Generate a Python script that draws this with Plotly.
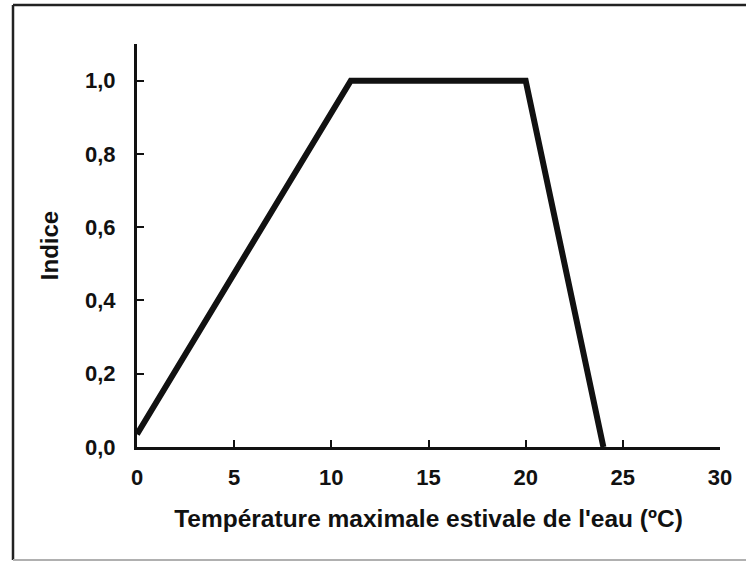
import plotly.graph_objects as go

# Data
temperature = [0, 11, 20, 24]
indice = [0.035, 1.0, 1.0, 0.0]

x_tick_vals = [0, 5, 10, 15, 20, 25, 30]
x_tick_text = ["0", "5", "10", "15", "20", "25", "30"]
y_tick_vals = [0.0, 0.2, 0.4, 0.6, 0.8, 1.0]
y_tick_text = ["0,0", "0,2", "0,4", "0,6", "0,8", "1,0"]

x_title = "Température maximale estivale de l'eau (ºC)"
y_title = "Indice"

FONT = "Liberation Sans"
INK = "#111111"

fig = go.Figure()
fig.add_trace(go.Scatter(
    x=temperature, y=indice, mode="lines",
    line=dict(color=INK, width=6),
    showlegend=False, hoverinfo="skip",
))

W, H = 746, 563
L, R, T, B = 137, 26, 44, 116
plot_w = W - L - R
plot_h = H - T - B


def px_to_paper_x(px):
    return (px - L) / plot_w


def px_to_paper_y(py):
    return (H - B - py) / plot_h


tick_font = dict(family=FONT, size=22, color=INK, weight="bold")
xtitle_font = dict(family=FONT, size=24.5, color=INK, weight="bold")
ytitle_font = dict(family=FONT, size=24, color=INK, weight="bold")

fig.update_layout(
    width=W, height=H,
    margin=dict(l=L, r=R, t=T, b=B, pad=0),
    paper_bgcolor="white", plot_bgcolor="white",
    font=dict(family=FONT, color=INK),
    xaxis=dict(
        range=[0, 30], tickmode="array", tickvals=x_tick_vals, ticktext=x_tick_text,
        ticks="inside", ticklen=7, tickwidth=2, tickcolor=INK,
        showline=True, linecolor=INK, linewidth=3, showgrid=False, zeroline=False,
        tickfont=tick_font,
        ticklabelstandoff=9,
        title=dict(text=x_title, font=xtitle_font, standoff=21),
    ),
    yaxis=dict(
        range=[0, 1.1], tickmode="array", tickvals=y_tick_vals, ticktext=y_tick_text,
        ticks="inside", ticklen=7, tickwidth=2, tickcolor=INK,
        showline=True, linecolor=INK, linewidth=3, showgrid=False, zeroline=False,
        tickfont=tick_font,
        ticklabelstandoff=14,
        title=dict(text=y_title, font=ytitle_font, standoff=20),
    ),
)

# Frame around the figure (scanned border)
left, right = px_to_paper_x(13), px_to_paper_x(750)
top, bottom = px_to_paper_y(5), px_to_paper_y(560)
fig.add_shape(type="line", xref="paper", yref="paper", x0=left, x1=right, y0=top, y1=top,
              line=dict(color="#222222", width=2.5))
fig.add_shape(type="line", xref="paper", yref="paper", x0=left, x1=left, y0=top, y1=bottom,
              line=dict(color="#222222", width=2.5))
fig.add_shape(type="line", xref="paper", yref="paper", x0=left, x1=right, y0=bottom, y1=bottom,
              line=dict(color="#b0b0b0", width=2))

fig.write_html("out.html", config={"displayModeBar": False},
               post_script="document.body.style.margin='0px';")
